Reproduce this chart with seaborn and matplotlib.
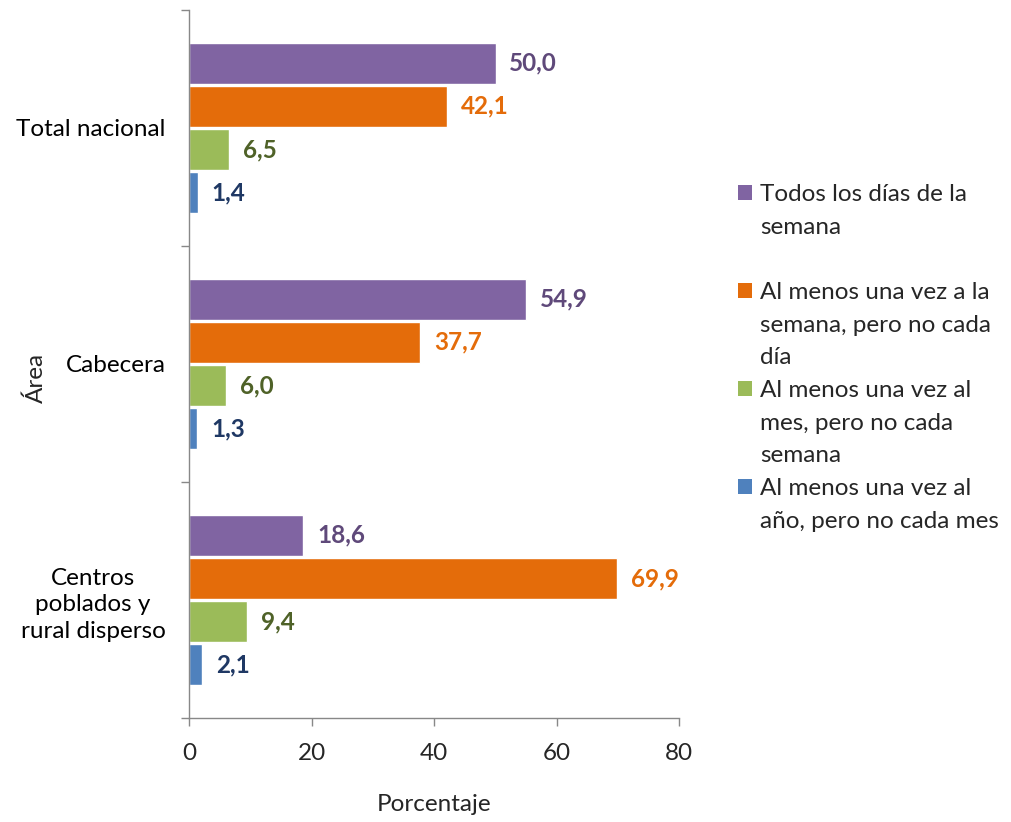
import matplotlib
matplotlib.use("Agg")
import matplotlib.pyplot as plt
from matplotlib.patches import Patch
import seaborn as sns
import pandas as pd

areas = ["Total nacional", "Cabecera", "Centros\npoblados y\nrural disperso"]
series = ["Todos los días de la semana",
          "Al menos una vez a la semana, pero no cada día",
          "Al menos una vez al mes, pero no cada semana",
          "Al menos una vez al año, pero no cada mes"]
legend_lines = [["Todos los días de la", "semana", ""],
                ["Al menos una vez a la", "semana, pero no cada", "día"],
                ["Al menos una vez al", "mes, pero no cada", "semana"],
                ["Al menos una vez al", "año, pero no cada mes"]]
todos = [50.0, 54.9, 18.6]
semana = [42.1, 37.7, 69.9]
mes = [6.5, 6.0, 9.4]
anio = [1.4, 1.3, 2.1]
x_ticks = [0, 20, 40, 60, 80]

bar_colors = ["#8064A2", "#E46C0A", "#9BBB59", "#4F81BD"]
label_colors = ["#5F497A", "#E46C0A", "#4F6228", "#1F3864"]

values = [todos, semana, mes, anio]
rows = []
for s, vals in zip(series, values):
    for a, v in zip(areas, vals):
        rows.append({"Área": a, "Serie": s, "Porcentaje": v})
df = pd.DataFrame(rows)

sns.set_theme(style="white")
plt.rcParams["font.family"] = ["Lato", "DejaVu Sans"]
FS = 17.5

fig = plt.figure(figsize=(10.11, 8.22), dpi=100)
ax = fig.add_axes([0.187, 0.1265, 0.485, 0.8615])

sns.barplot(data=df, y="Área", x="Porcentaje", hue="Serie", order=areas,
            hue_order=series, palette=bar_colors, orient="h", width=0.73,
            gap=0.05, ax=ax, saturation=1, legend=False)

for cont, vals, lc in zip(ax.containers, values, label_colors):
    ax.bar_label(cont, labels=[f"{v:.1f}".replace(".", ",") for v in vals],
                 padding=10, color=lc, fontsize=FS, fontweight="bold")

ax.set_xlim(0, 80)
ax.set_xticks(x_ticks)
ax.set_ylim(2.5, -0.5)
ax.set_yticks([-0.5, 0.5, 1.5, 2.5], minor=True)
ax.tick_params(axis="y", which="major", length=0, pad=17, labelsize=FS, colors="black")
ax.tick_params(axis="y", which="minor", length=6, width=1, color="#888888", left=True)
ax.tick_params(axis="x", which="major", length=6, width=1, color="#888888",
               bottom=True, labelsize=FS, pad=12)
for lbl in ax.get_yticklabels():
    lbl.set_multialignment("center")
    lbl.set_linespacing(1.35)

for sp in ["top", "right"]:
    ax.spines[sp].set_visible(False)
for sp in ["left", "bottom"]:
    ax.spines[sp].set_color("#888888")
    ax.spines[sp].set_linewidth(1)

ax.set_xlabel("Porcentaje", fontsize=FS)
ax.xaxis.set_label_coords(0.5, -0.107)
ax.set_ylabel("Área", fontsize=FS)
ax.yaxis.set_label_coords(-0.29, 0.48)

handles, labels = [], []
for col, lines in zip(bar_colors, legend_lines):
    for i, line in enumerate(lines):
        if i == 0:
            handles.append(Patch(facecolor=col, edgecolor="none"))
        else:
            handles.append(Patch(facecolor="none", edgecolor="none"))
        labels.append(line)

ax.legend(handles, labels, loc="upper left", bbox_to_anchor=(0.730, 0.776),
          bbox_transform=fig.transFigure, frameon=False, fontsize=FS,
          handlelength=0.57, handleheight=0.57, handletextpad=0.33,
          labelspacing=0.48, borderpad=0, borderaxespad=0)

fig.savefig("out.png", dpi=100)
